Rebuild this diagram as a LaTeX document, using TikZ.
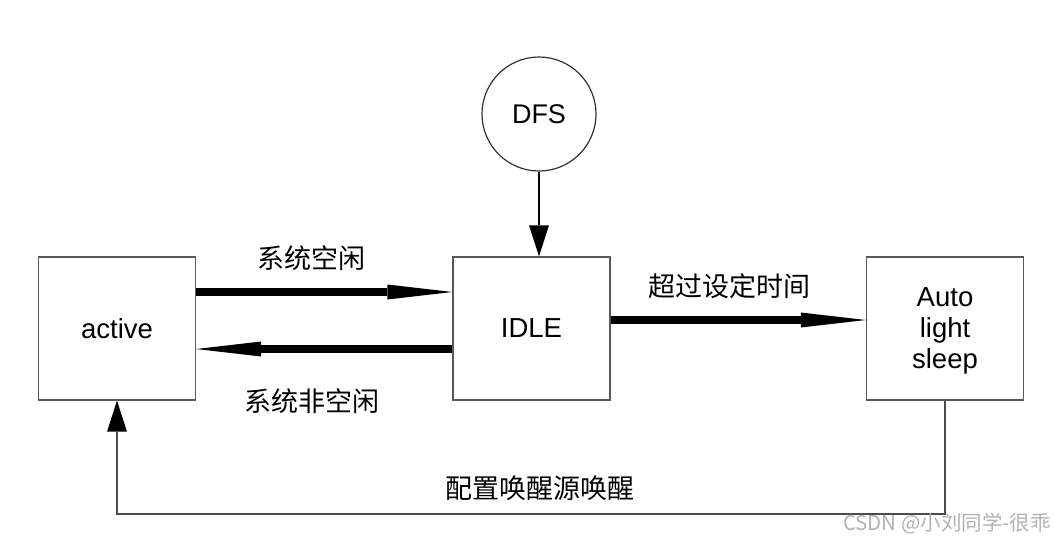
\documentclass[tikz,border=0pt]{standalone}
\usepackage{fontspec}
\setmainfont{Liberation Sans}
\newfontfamily\cjk{Noto Sans CJK SC}
\usetikzlibrary{arrows.meta}
\begin{document}
\begin{tikzpicture}[x=1pt,y=-1pt,
  box/.style={draw=black!65,line width=1.3pt,minimum width=157pt,minimum height=143pt,inner sep=0pt,align=center,font=\fontsize{27.5}{31}\selectfont},
  boxtext/.style={inner sep=0pt,align=center,font=\fontsize{27.5}{31}\selectfont},
  circ/.style={draw=black!80,line width=1.2pt,circle,minimum size=114pt,inner sep=0pt,font=\fontsize{27}{30}\selectfont},
  thick arrow/.style={line width=8pt,-{Triangle[length=65pt,width=15pt,line width=0pt]}},
  thin arrow/.style={draw=black!70,line width=1.3pt,-{Triangle[length=31pt,width=20pt,line width=0pt,fill=black]}},
  lbl/.style={font=\cjk\fontsize{27}{30}\selectfont,inner sep=0pt}]
\useasboundingbox[fill=white] (0,0) rectangle (1054,542);
\node[box] (active) at (117,328.5) {active};
\node[box] (idle) at (531.5,328.5) {IDLE};
\node[box] (sleep) at (945,328.5) {};
\node[boxtext] (sleeptext) at (945,331) {Auto\\light\\sleep};
\node[circ] (dfs) at (539,114) {DFS};
\draw[thin arrow,draw=black] (dfs.south) -- (dfs.south |- idle.north);
\draw[thick arrow] (active.east |- 0,292) -- (idle.west |- 0,292);
\draw[thick arrow] (idle.west |- 0,349) -- (active.east |- 0,349);
\draw[thick arrow] (idle.east |- 0,320) -- (sleep.west |- 0,320);
\coordinate (c1) at (945,514);
\coordinate (c2) at (117,514);
\draw[thin arrow] (sleep.south) -- (c1) -- (c2) -- (active.south);
\node[lbl] (l1) at (311,258) {系统空闲};
\node[lbl] (l2) at (312,401) {系统非空闲};
\node[lbl] (l3) at (729,286) {超过设定时间};
\node[lbl] (l4) at (540,488) {配置唤醒源唤醒};
\node[font=\cjk\fontsize{20.5}{22}\selectfont,text=black!30,anchor=east,inner sep=0pt] (wm) at (1051,524) {CSDN @小刘同学-很乖};
\end{tikzpicture}
\end{document}
